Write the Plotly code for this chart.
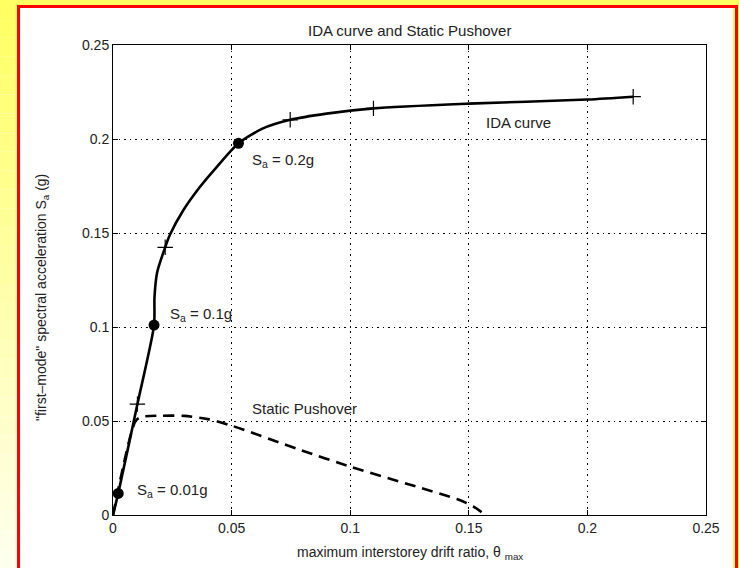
import plotly.graph_objects as go

# ---------------- data ----------------
ida_x = [0, 0.0022, 0.0103, 0.0173, 0.0175, 0.0186, 0.022, 0.0241, 0.0297, 0.0367,
         0.0438, 0.0529, 0.063, 0.0747, 0.09, 0.1098, 0.15, 0.2, 0.2193]
ida_y = [0, 0.0115, 0.059, 0.101, 0.116, 0.1290, 0.1424, 0.1493, 0.1622, 0.1746,
         0.1852, 0.1977, 0.2055, 0.2102, 0.2135, 0.2163, 0.2188, 0.2210, 0.2225]

dot_x = [0.0022, 0.0173, 0.0529]
dot_y = [0.0115, 0.101, 0.1977]

plus_x = [0.0103, 0.022, 0.0747, 0.1098, 0.2193]
plus_y = [0.059, 0.1424, 0.2102, 0.2163, 0.2225]

push_x = [0, 0.0095, 0.012, 0.02, 0.03, 0.04, 0.05, 0.079, 0.1, 0.13, 0.145, 0.152, 0.157]
push_y = [0, 0.05, 0.0522, 0.0528, 0.0527, 0.051, 0.0475, 0.0346, 0.0257, 0.0143, 0.0085, 0.0045, 0.0]

tick_vals = [0, 0.05, 0.1, 0.15, 0.2, 0.25]
tick_text = ["0", "0.05", "0.1", "0.15", "0.2", "0.25"]

labels = [
    ("S<sub>a</sub> = 0.2g", 0.0579, 0.1888),
    ("S<sub>a</sub> = 0.1g", 0.0232, 0.1065),
    ("S<sub>a</sub> = 0.01g", 0.0093, 0.0128),
    ("IDA curve", 0.1563, 0.2090),
    ("Static Pushover", 0.0579, 0.0564),
]

# ---------------- layout geometry ----------------
W, H = 739, 568
L, R, T, B = 113, 33, 45, 53
PW, PH = W - L - R, H - T - B
FONT = "Liberation Sans, Arial, sans-serif"


def px(X):
    return (X - L) / PW


def py(Y):
    return (H - B - Y) / PH


fig = go.Figure()

fig.add_trace(go.Scatter(x=ida_x, y=ida_y, mode="lines",
                         line=dict(color="black", width=2.6, shape="spline", smoothing=0.7),
                         hoverinfo="skip"))
fig.add_trace(go.Scatter(x=push_x, y=push_y, mode="lines",
                         line=dict(color="black", width=2.6, dash="11px,7px",
                                   shape="spline", smoothing=0.7),
                         hoverinfo="skip"))
fig.add_trace(go.Scatter(x=plus_x, y=plus_y, mode="markers",
                         marker=dict(symbol="cross-thin", size=11,
                                     line=dict(color="black", width=1.2)),
                         hoverinfo="skip"))
fig.add_trace(go.Scatter(x=dot_x, y=dot_y, mode="markers",
                         marker=dict(symbol="circle", size=11, color="black"),
                         hoverinfo="skip"))

shapes = []
# left gradient strip
n = 30
for i in range(n):
    a = i / (n - 1)
    b = int(100 + (238 - 100) * a)
    ya = i * H / n
    yb = (i + 1) * H / n
    shapes.append(dict(type="rect", xref="paper", yref="paper",
                       x0=px(0), x1=px(18), y0=py(yb), y1=py(ya),
                       fillcolor=f"rgb(255,255,{b})", line=dict(width=0), layer="below"))
# top strip
shapes.append(dict(type="rect", xref="paper", yref="paper",
                   x0=px(0), x1=px(W), y0=py(6), y1=py(0),
                   fillcolor="rgb(255,255,100)", line=dict(width=0), layer="below"))
# right strip
shapes.append(dict(type="rect", xref="paper", yref="paper",
                   x0=px(733), x1=px(W), y0=py(H), y1=py(0),
                   fillcolor="rgb(255,255,100)", line=dict(width=0), layer="below"))
# red border
shapes.append(dict(type="line", xref="paper", yref="paper",
                   x0=px(18.5), x1=px(18.5), y0=py(H), y1=py(5),
                   line=dict(color="rgb(255,0,0)", width=3), layer="below"))
shapes.append(dict(type="line", xref="paper", yref="paper",
                   x0=px(17), x1=px(737.5), y0=py(6.5), y1=py(6.5),
                   line=dict(color="rgb(255,0,0)", width=3), layer="below"))
shapes.append(dict(type="line", xref="paper", yref="paper",
                   x0=px(736.5), x1=px(736.5), y0=py(H), y1=py(5),
                   line=dict(color="rgb(255,0,0)", width=3), layer="below"))

annotations = []
for txt, ax_, ay_ in labels:
    annotations.append(dict(text=txt, x=ax_, y=ay_, xref="x", yref="y",
                            xanchor="left", yanchor="middle", showarrow=False,
                            font=dict(family=FONT, size=15, color="#222")))
# title
annotations.append(dict(text="IDA curve and Static Pushover", x=0.5, y=py(30),
                        xref="paper", yref="paper", xanchor="center", yanchor="middle",
                        showarrow=False, font=dict(family=FONT, size=15, color="#222")))
# x title
annotations.append(dict(text="maximum interstorey drift ratio, θ <sub>max</sub>",
                        x=0.5, y=py(553), xref="paper", yref="paper",
                        xanchor="center", yanchor="middle", showarrow=False,
                        font=dict(family=FONT, size=14, color="#222")))
# y title
annotations.append(dict(text="\"first–mode\" spectral acceleration S<sub>a</sub> (g)",
                        x=px(42), y=py(298), xref="paper", yref="paper",
                        xanchor="center", yanchor="middle", textangle=-90,
                        showarrow=False, font=dict(family=FONT, size=14, color="#222")))

axis_common = dict(range=[0, 0.25], tickvals=tick_vals, ticktext=tick_text,
                   showline=True, linecolor="black", linewidth=1, mirror="ticks",
                   ticks="inside", ticklen=5, tickcolor="black",
                   showgrid=True, gridcolor="black", gridwidth=1, griddash="1.5px,4px",
                   zeroline=False, tickfont=dict(family=FONT, size=14, color="#222"),
                   fixedrange=True)

fig.update_layout(
    width=W, height=H,
    margin=dict(l=L, r=R, t=T, b=B, autoexpand=False),
    paper_bgcolor="white", plot_bgcolor="white",
    showlegend=False,
    xaxis=axis_common,
    yaxis=axis_common,
    shapes=shapes,
    annotations=annotations,
)

fig.write_html("out.html")
